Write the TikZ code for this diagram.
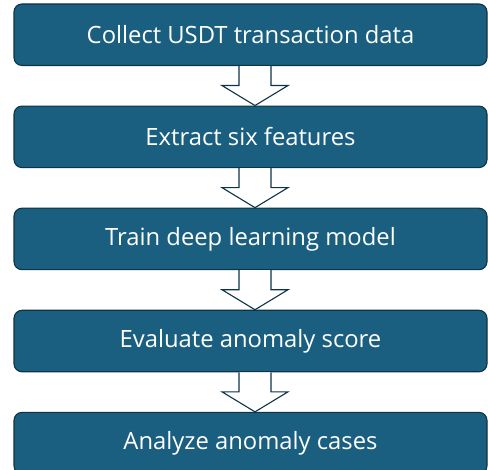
\documentclass[tikz,border=0pt]{standalone}
\usepackage{fontspec}
\setmainfont{Open Sans}
\usepackage{tikz}
\usetikzlibrary{shapes,arrows,positioning,calc}
\definecolor{boxblue}{HTML}{1A5F80}
\definecolor{boxline}{HTML}{0E3347}

\begin{document}
\begin{tikzpicture}[x=1pt, y=1pt, node distance=39.5pt,
  block/.style={rectangle, draw=boxline, line width=1.1pt, rounded corners=8pt, fill=boxblue, minimum height=61.5pt, minimum width=473pt, align=center, text=white, font=\fontsize{23.8}{27}\selectfont},
  hollow/.style={draw=boxline, line width=1.1pt, fill=white, line join=miter}]
\useasboundingbox (0,0) rectangle (488,470);
\node[block] (a) at (250.5,435.25) {Collect USDT transaction data};
\node[block, below=of a] (b) {Extract six features};
\node[block, below=of b] (c) {Train deep learning model};
\node[block, below=of c] (d) {Evaluate anomaly score};
\node[block, below=of d] (e) {Analyze anomaly cases};
% block arrows between the steps
\foreach \u/\v in {a/b, b/c, c/d, d/e}
  \draw[hollow] ($(\u.south)+(-11.5,0)$) -- ($(\u.south)+(-11.5,-19.5)$) -- ($(\u.south)+(-28.5,-19.5)$)
    -- ($(\v.north)+(4.5,0)$) -- ($(\u.south)+(37.5,-19.5)$) -- ($(\u.south)+(20.5,-19.5)$) -- ($(\u.south)+(20.5,0)$);
\end{tikzpicture}
\end{document}
